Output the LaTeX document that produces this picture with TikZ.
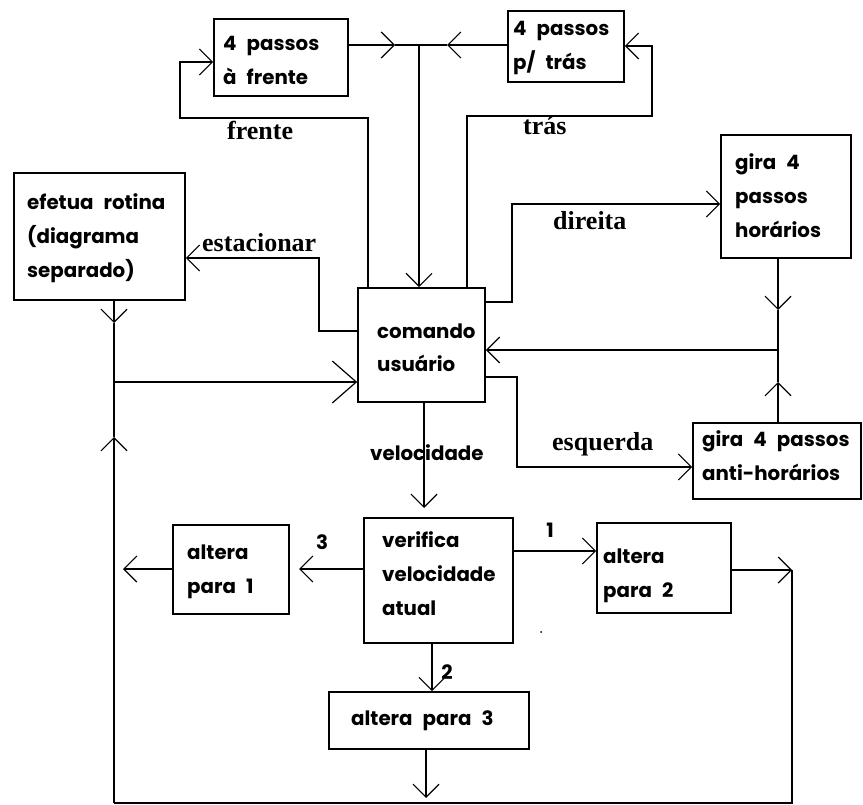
\documentclass[tikz,border=0pt]{standalone}
\usepackage{fontspec}
\setmainfont{Poppins}
\newfontfamily\boxf{Poppins}[WordSpace=2.4]
\newfontfamily\labfont{Liberation Serif}
\usetikzlibrary{arrows.meta}
\tikzset{
  box/.style={draw, line width=1.6pt, inner sep=0pt, rectangle},
  txt/.style={anchor=base west, inner sep=0pt, align=left, font=\boxf\fontsize{19.8}{34}\selectfont\bfseries},
  lab/.style={anchor=base west, inner sep=0pt, font=\fontsize{26}{30}\selectfont\labfont\bfseries},
  num/.style={inner sep=0pt, font=\fontsize{19.8}{22}\selectfont\bfseries},
  ln/.style={line width=1.5pt},
  arr/.style={line width=1.5pt, -{Straight Barb[length=13pt,width=26pt,line width=1.2pt]}},
  bigarr/.style={line width=1.5pt, -{Straight Barb[length=24pt,width=42pt,line width=1.2pt]}},
}
\begin{document}
\begin{tikzpicture}[x=1pt,y=-1pt]
\useasboundingbox (0,0) rectangle (863,805);
% boxes
\node[box, minimum width=134pt, minimum height=77pt] (f4) at (281,57.5) {};
\node[box, minimum width=116pt, minimum height=71pt] (t4) at (566,46.5) {};
\node[box, minimum width=171pt, minimum height=127pt] (efetua) at (99.5,236.5) {};
\node[box, minimum width=127pt, minimum height=114pt] (comando) at (421.5,345) {};
\node[box, minimum width=130pt, minimum height=123pt] (gira) at (786,196.5) {};
\node[box, minimum width=168pt, minimum height=76pt] (anti) at (777,461) {};
\node[box, minimum width=149pt, minimum height=125pt] (verifica) at (438.5,580.5) {};
\node[box, minimum width=116pt, minimum height=89pt] (alt1) at (231,569.5) {};
\node[box, minimum width=134pt, minimum height=90pt] (alt2) at (664,568) {};
\node[box, minimum width=200pt, minimum height=57pt] (alt3) at (429,720.5) {};
% box texts (anchored at the baseline of their last line)
\node[txt] (tf4) at (223,85) {4 passos\\à frente};
\node[txt] (tt4) at (513,70) {4 passos\\p/ trás};
\node[txt] (tef) at (27,278) {efetua rotina\\(diagrama\\separado)};
\node[txt] (tco) at (377,372) {comando\\usuário};
\node[txt] (tgi) at (735,238) {gira 4\\passos\\horários};
\node[txt] (tan) at (702,480) {gira 4 passos\\anti-horários};
\node[txt] (tve) at (382,615) {verifica\\velocidade\\atual};
\node[txt] (ta1) at (187,593) {altera\\para 1};
\node[txt] (ta2) at (603,597) {altera\\para 2};
\node[txt] (ta3) at (351,725) {altera para 3};
% coordinates
\coordinate (J) at (419,45);
\coordinate (a1) at (395,45);
\coordinate (a2) at (447,45);
\coordinate (fr1) at (368,118);
\coordinate (fr2) at (180,118);
\coordinate (fr3) at (180,62);
\coordinate (tr1) at (467,116);
\coordinate (tr2) at (652,116);
\coordinate (tr3) at (652,46);
\coordinate (es1) at (319,331);
\coordinate (es2) at (319,258);
\coordinate (L0) at (114,300);
\coordinate (Ld) at (114,323);
\coordinate (Lj) at (114,382);
\coordinate (Lu) at (114,437);
\coordinate (Lb) at (114,803);
\coordinate (Rb) at (792,803);
\coordinate (Rt) at (792,570);
\coordinate (b3) at (426,798);
\coordinate (l1) at (123,569);
\coordinate (d1) at (512,302);
\coordinate (d2) at (512,204);
\coordinate (Gj) at (778,350);
\coordinate (Gd) at (778,310);
\coordinate (Gu) at (778,382);
\coordinate (e1) at (517,377);
\coordinate (e2) at (517,467);
\coordinate (v1) at (424,508);
\coordinate (v3) at (299,569);
\coordinate (v2) at (0,551);
\coordinate (v4) at (432,0);
% connectors top
\draw[arr] (f4.east |- J) -- (a1);
\draw[ln] (a1) -- (a2);
\draw[arr] (t4.west |- J) -- (a2);
\draw[arr] (J) -- (J |- comando.north);
\draw[arr] (fr1 |- comando.north) -- (fr1) -- (fr2) -- (fr3) -- (f4.west |- fr3);
\draw[arr] (tr1 |- comando.north) -- (tr1) -- (tr2) -- (tr3) -- (t4.east |- tr3);
\draw[arr] (comando.west |- es1) -- (es1) -- (es2) -- (efetua.east |- es2);
% left loop
\draw[arr] (L0) -- (Ld);
\draw[ln] (Ld) -- (Lj);
\draw[bigarr] (Lj) -- (comando.west |- Lj);
\draw[arr] (Lb) -- (Lu);
\draw[ln] (Lu) -- (Lj);
\draw[ln] (Lb) -- (Rb) -- (Rt);
\draw[arr] (alt2.east |- Rt) -- (Rt);
\draw[arr] (alt3.south -| b3) -- (b3);
\draw[arr] (alt1.west |- l1) -- (l1);
% right side
\draw[arr] (comando.east |- d1) -- (d1) -- (d2) -- (gira.west |- d2);
\draw[arr] (gira.south -| Gj) -- (Gd);
\draw[ln] (Gd) -- (Gj);
\draw[arr] (Gj) -- (comando.east |- Gj);
\draw[arr] (anti.north -| Gj) -- (Gu);
\draw[ln] (Gu) -- (Gj);
\draw[arr] (comando.east |- e1) -- (e1) -- (e2) -- (anti.west |- e2);
% velocidade
\draw[arr] (comando.south -| v1) -- (v1);
\draw[arr] (verifica.west |- v3) -- (v3);
\draw[arr] (verifica.east |- v2) -- (alt2.west |- v2);
\draw[arr] (verifica.south -| v4) -- (alt3.north -| v4);
% labels
\node[lab] (lfr) at (227,140) {frente};
\node[lab] (ltr) at (523,135) {trás};
\node[lab] (les) at (202,252) {estacionar};
\node[lab] (ldi) at (553,230) {direita};
\node[lab] (leq) at (552,450) {esquerda};
\node[txt] (lve) at (370,460) {velocidade};
\node[num] (n3) at (322,542) {3};
\node[num] (n1) at (550,530) {1};
\node[num] (n2) at (447,672) {2};
\fill (541,632) circle (1pt);
\end{tikzpicture}
\end{document}
